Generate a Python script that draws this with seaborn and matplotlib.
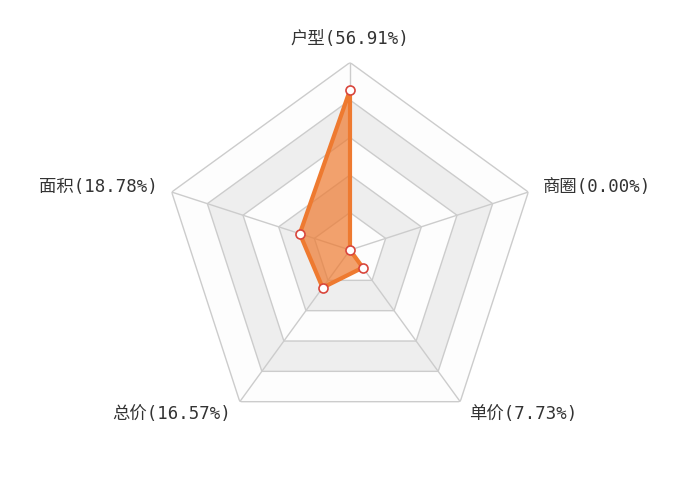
import numpy as np
import matplotlib
matplotlib.use("Agg")
import matplotlib.pyplot as plt
import seaborn as sns

# radar data
names = ["户型", "商圈", "单价", "总价", "面积"]
values = [56.91, 0.00, 7.73, 16.57, 18.78]
axis_max = 66.7
n_split = 5


def radar_labels(names, values):
    return ["%s(%.2f%%)" % (n, v) for n, v in zip(names, values)]


def main():
    sns.set_theme(style="white")
    plt.rcParams["font.family"] = ["DejaVu Sans Mono", "Noto Sans CJK SC"]

    fig = plt.figure(figsize=(7, 5), dpi=100)
    fig.patch.set_facecolor("white")
    # center (350, 250), radius 187.5 px
    ax = fig.add_axes([(350 - 187.5) / 700, (250 - 187.5) / 500,
                       375 / 700, 375 / 500], projection="polar")
    ax.set_theta_offset(np.pi / 2)
    ax.set_theta_direction(-1)
    ax.set_ylim(0, axis_max)
    ax.axis("off")

    theta = np.linspace(0, 2 * np.pi, len(names), endpoint=False)
    theta_c = np.append(theta, theta[0])

    # split areas, outer to inner
    light = "#fdfdfd"
    gray = "#eeeeee"
    for k in range(n_split, 0, -1):
        r = np.full(len(theta_c), axis_max * k / n_split)
        ax.fill(theta_c, r, color=light if k % 2 == 1 else gray, lw=0, zorder=1)
    for k in range(1, n_split + 1):
        r = np.full(len(theta_c), axis_max * k / n_split)
        ax.plot(theta_c, r, color="#cccccc", lw=1, zorder=2)
    for t in theta:
        ax.plot([t, t], [0, axis_max], color="#cccccc", lw=1, zorder=2)

    vals_c = np.append(values, values[0])
    ax.fill(theta_c, vals_c, color="#ee7a30", alpha=0.7, lw=0, zorder=3)
    ax.plot(theta_c, vals_c, color="#ee7a30", lw=3, solid_joinstyle="miter", zorder=4)
    ax.plot(theta, values, "o", ms=6.5, mfc="white", mec="#d9463c", mew=1.2, zorder=5)

    label_r = axis_max * (187.5 + 15) / 187.5
    for t, lab in zip(theta, radar_labels(names, values)):
        x = np.sin(t)
        if abs(x) < 1e-3:
            ha, va = "center", "bottom"
        elif x > 0:
            ha, va = "left", "center"
        else:
            ha, va = "right", "center"
        ax.text(t, label_r, lab, ha=ha, va=va, fontsize=12.5, color="#333333")

    fig.savefig("out.png", dpi=100, facecolor="white")


if __name__ == '__main__':
    main()
